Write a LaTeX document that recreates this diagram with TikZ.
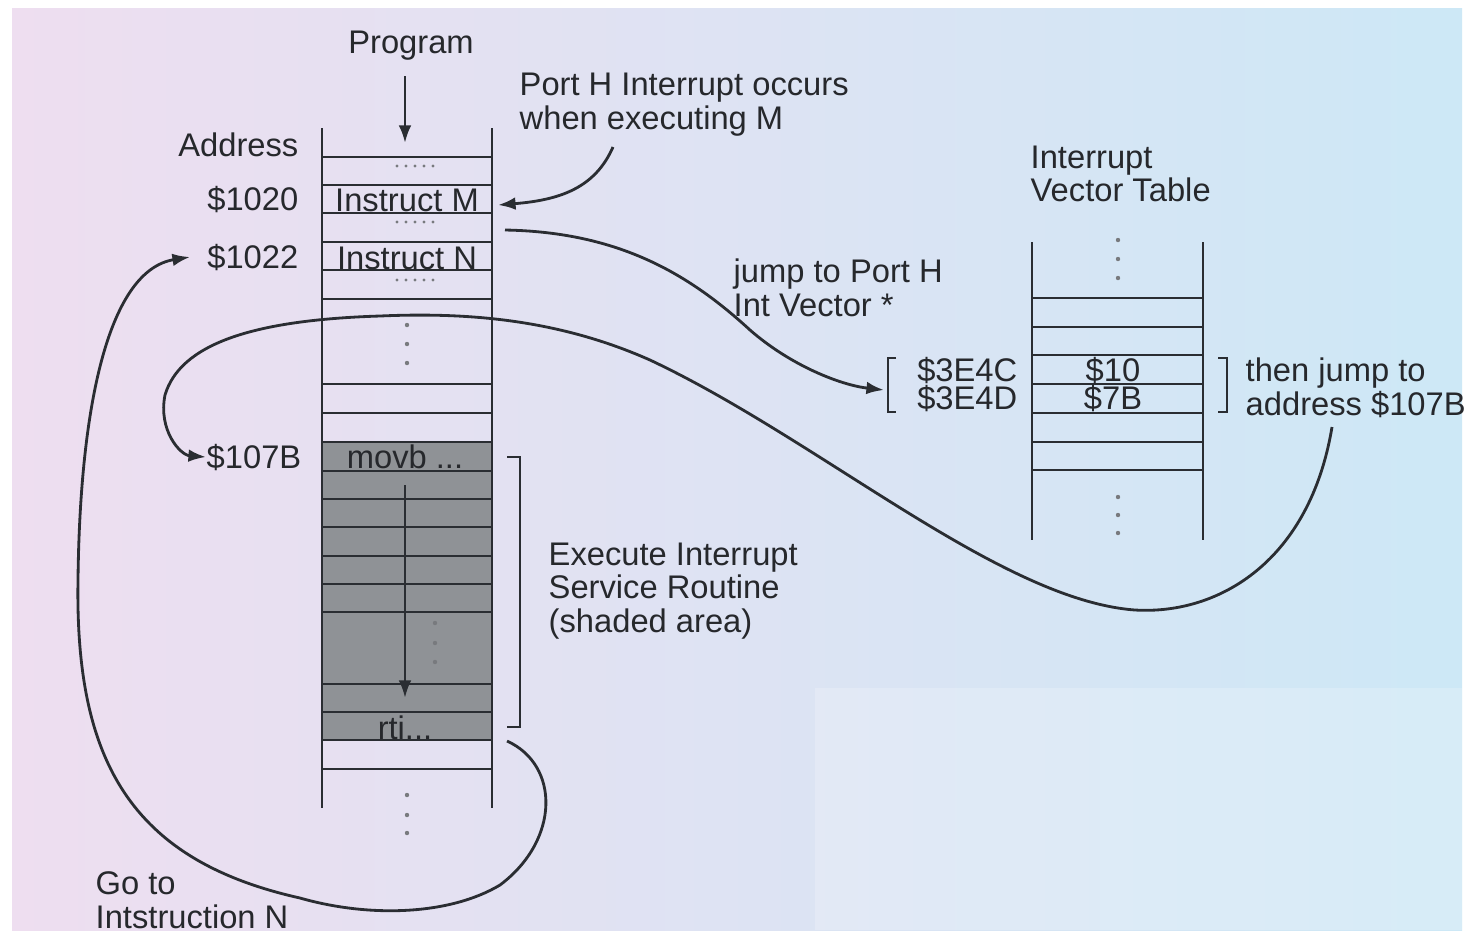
\documentclass[tikz,border=0pt]{standalone}
\usepackage{fontspec}
\setmainfont{Liberation Sans}
\usetikzlibrary{arrows.meta}
\definecolor{ink}{RGB}{42,45,50}
\definecolor{txt}{RGB}{38,40,44}
\definecolor{shadecell}{RGB}{143,146,150}
\definecolor{dotc}{RGB}{120,122,126}
\definecolor{bgL}{RGB}{238,222,240}
\definecolor{bgM}{RGB}{222,234,245}
\definecolor{bgR}{RGB}{205,232,246}
\begin{document}
\begin{tikzpicture}[x=0.01cm,y=-0.01cm,
  font=\fontsize{9.3}{9.6}\selectfont,
  every node/.style={inner sep=0pt,text=txt},
  ln/.style={line width=0.8pt,draw=ink},
  arr/.style={ln,-{Latex[length=5pt,width=3.6pt]}},
  lbl/.style={anchor=west,align=left},
  vdot/.style={fill=dotc,draw=none}]
\useasboundingbox (0,0) rectangle (1466,935);
\fill[white] (0,0) rectangle (1466,935);
\shade[left color=bgL,middle color=bgM,right color=bgR] (12,8) rectangle (1462,930);
\fill[white,opacity=0.2] (815,688) rectangle (1462,930);

% ---------- program memory column ----------
\fill[shadecell] (322,442) rectangle (492,740);
\draw[ln] (322,128) -- (322,808);
\draw[ln] (492,128) -- (492,808);
\foreach \y in {157,185,213,242,270,299,384,413,442,471,499,527,556,584,612,684,712,740,769}
  \draw[ln] (322,\y) -- (492,\y);
\foreach \y in {166,222,280}
  \foreach \x in {397,406,415,424,433}
    \fill[dotc] (\x,\y) circle (1.6);
\foreach \y in {325,344,363} \fill[vdot] (407,\y) circle (2.2);
\foreach \y in {623,643,662} \fill[vdot] (435,\y) circle (2.2);
\foreach \y in {795,815,833} \fill[vdot] (407,\y) circle (2.2);

\node (im) at (407,200) {Instruct M};
\node (in) at (407,258) {Instruct N};
\node (movb) at (405,457) {movb ...};
\node (rti) at (405,728) {rti...};

\node (prog) at (411,46) {Program};
\coordinate (ps) at (405,76);
\coordinate (pe) at (405,143);
\draw[arr] (ps) -- (pe);

\node[anchor=east] (addr) at (299,145) {Address};
\node[anchor=east] (a1020) at (299,200) {\$1020};
\node[anchor=east] (a1022) at (299,258) {\$1022};
\node[anchor=east] (a107b) at (302,458) {\$107B};

% execution arrow inside the shaded area
\coordinate (es) at (405,485);
\coordinate (ee) at (405,698);
\draw[arr] (es) -- (ee);
% bracket for ISR
\draw[ln] (507,457) -- (520,457) -- (520,727) -- (507,727);
\node[lbl] (isr) at (548,591) {Execute Interrupt\\Service Routine\\(shaded area)};

% ---------- interrupt note ----------
\node[lbl] (porth) at (519,105) {Port H Interrupt occurs\\when executing M};
\coordinate (ph1) at (613,147);
\coordinate (ph2) at (498,205);
\draw[arr] (ph1) .. controls (595,188) and (560,200) .. (ph2);

% ---------- jump to vector ----------
\node[lbl] (jmp) at (733,288) {jump to Port H\\Int Vector *};
\coordinate (j1) at (505,230);
\coordinate (j2) at (750,330);
\coordinate (j3) at (884,390);
\draw[arr] (j1) .. controls (620,232) and (690,275) .. (j2) .. controls (790,365) and (840,385) .. (j3);

% ---------- vector table ----------
\node[lbl] (ivt) at (1030,174) {Interrupt\\Vector Table};
\draw[ln] (1032,242) -- (1032,540);
\draw[ln] (1203,242) -- (1203,540);
\foreach \y in {298,327,355,384,413,442,470}
  \draw[ln] (1032,\y) -- (1203,\y);
\foreach \y in {240,259,278,497,515,533} \fill[vdot] (1118,\y) circle (2.2);
\node (v10) at (1113,371) {\$10};
\node (v7b) at (1113,399) {\$7B};
\node[anchor=east] (v4c) at (1018,371) {\$3E4C};
\node[anchor=east] (v4d) at (1018,399) {\$3E4D};
\draw[ln] (896,358) -- (888,358) -- (888,412) -- (896,412);
\draw[ln] (1218,358) -- (1227,358) -- (1227,412) -- (1218,412);
\node[lbl] (then) at (1245,388) {then jump to\\address \$107B};

% ---------- jump to ISR ----------
\coordinate (b1) at (1332,427);
\coordinate (b2) at (1135,610);
\coordinate (b3) at (650,360);
\coordinate (b4) at (380,316);
\coordinate (b5) at (165,395);
\coordinate (b6) at (206,457);
\draw[arr] (b1) .. controls (1310,560) and (1220,615) .. (b2)
  .. controls (1000,600) and (820,440) .. (b3)
  .. controls (560,320) and (470,312) .. (b4)
  .. controls (250,320) and (180,345) .. (b5)
  .. controls (158,430) and (180,455) .. (b6);

% ---------- return ----------
\coordinate (r1) at (507,741);
\coordinate (r2) at (500,885);
\coordinate (r3) at (300,898);
\coordinate (r4) at (78,580);
\coordinate (r5) at (190,257);
\draw[arr] (r1) .. controls (560,765) and (560,840) .. (r2)
  .. controls (450,915) and (370,918) .. (r3)
  .. controls (130,860) and (75,760) .. (r4)
  .. controls (80,400) and (110,270) .. (r5);
\node[lbl] (goto) at (95,900) {Go to\\Intstruction N};
\end{tikzpicture}
\end{document}
